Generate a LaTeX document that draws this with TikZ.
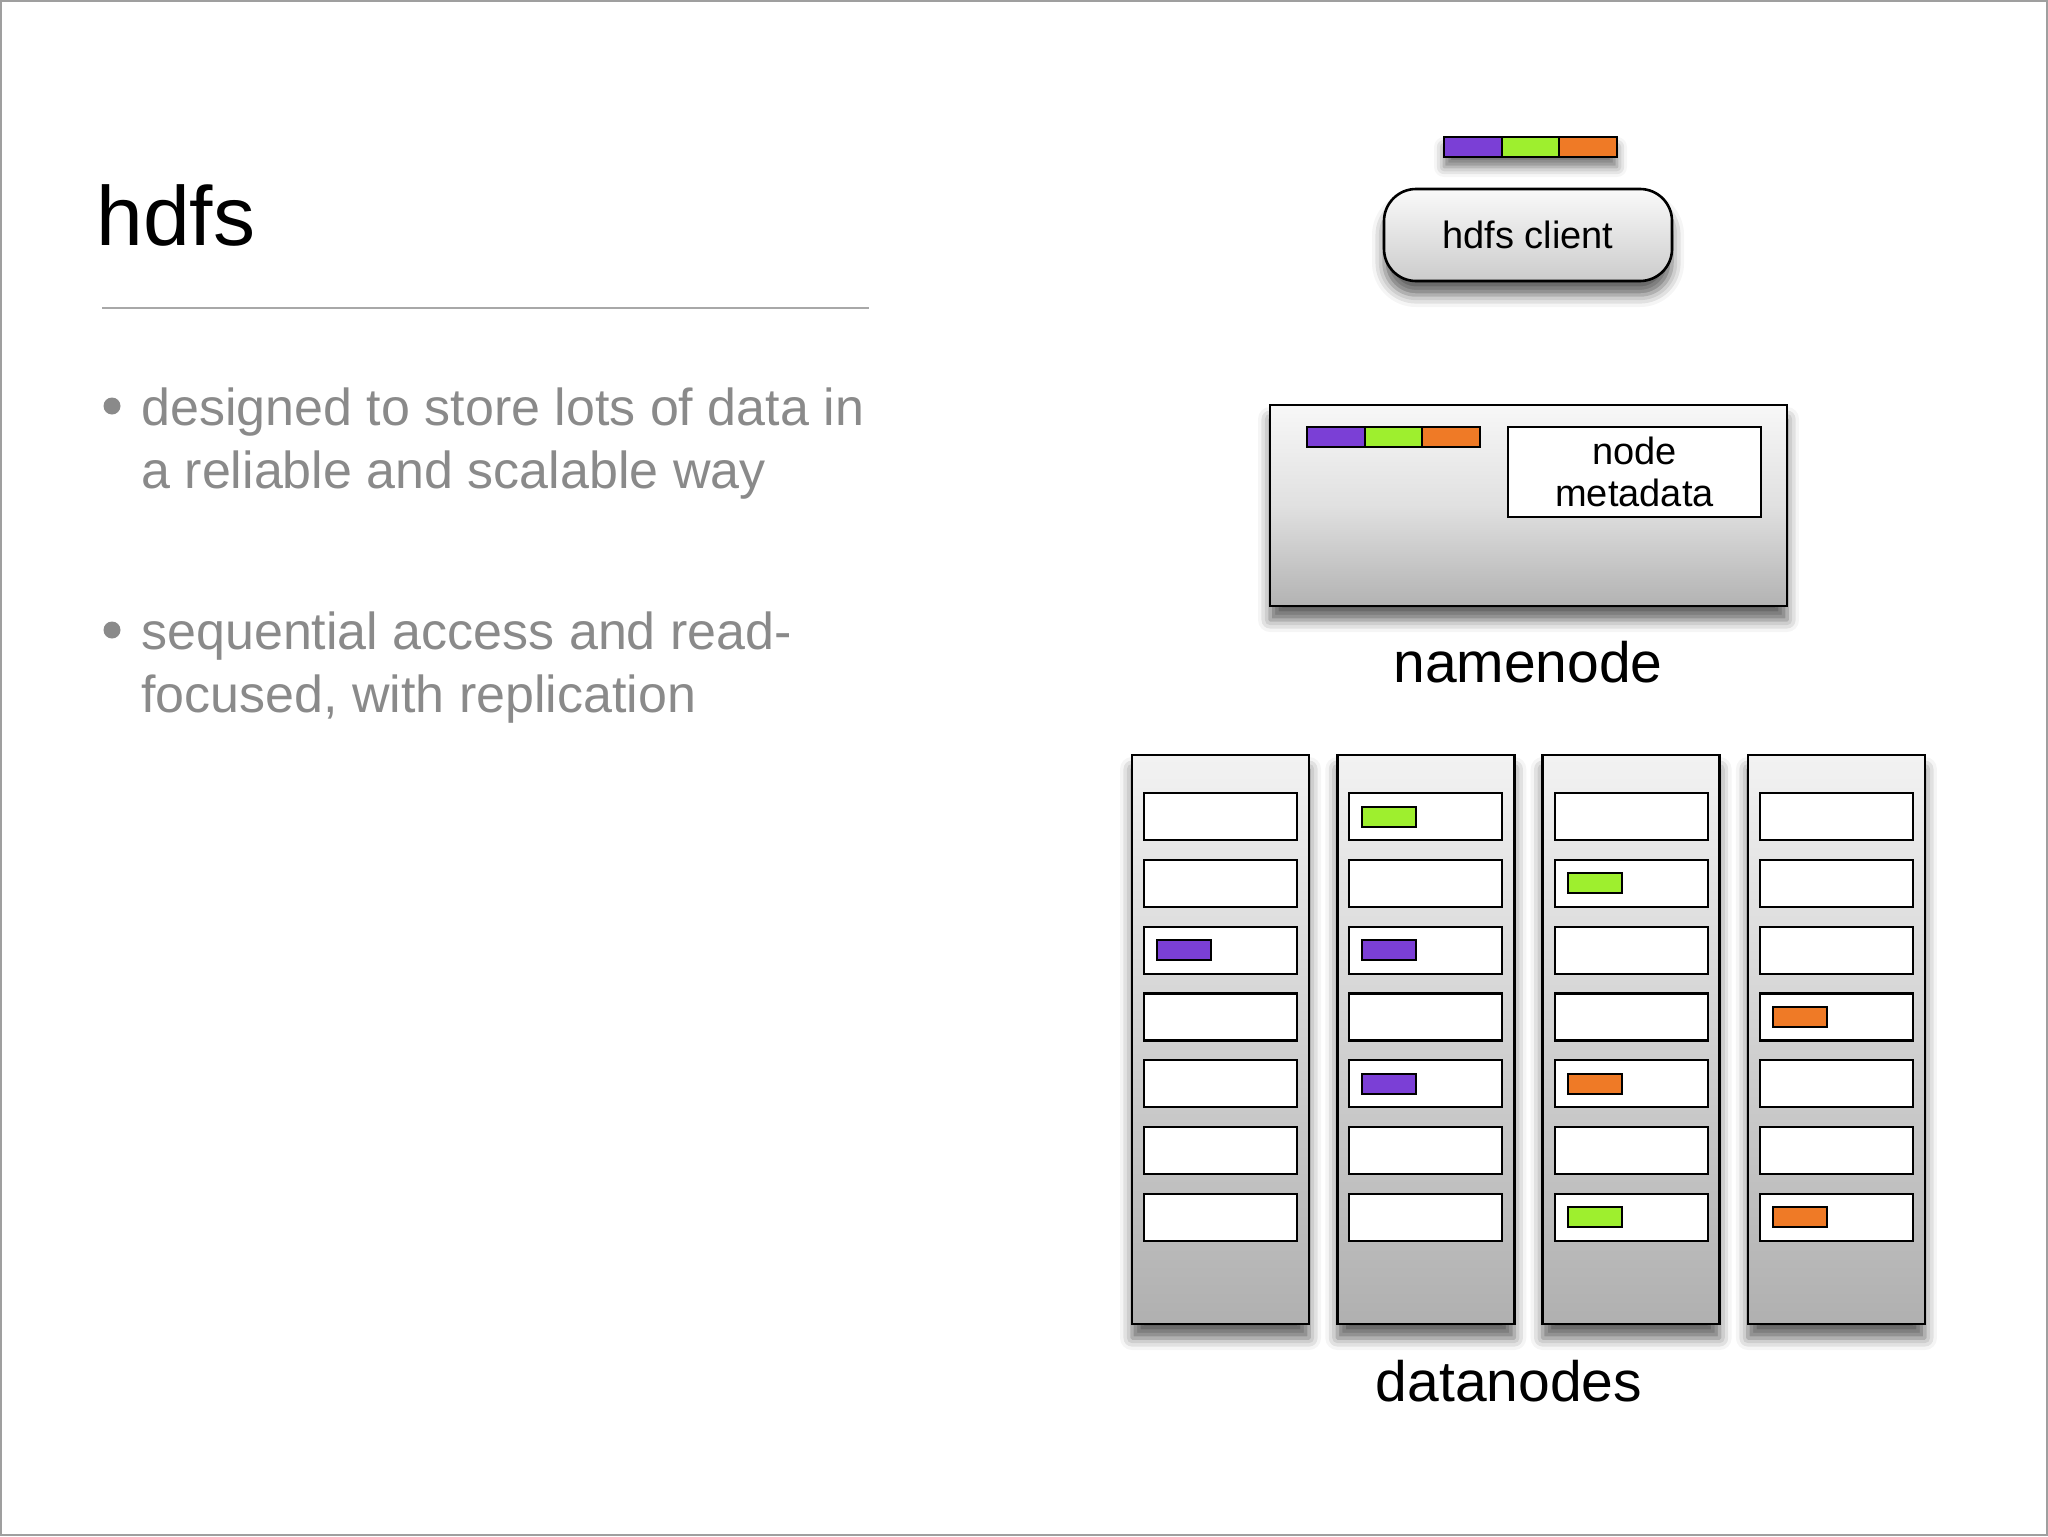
\documentclass[tikz,border=0pt]{standalone}
\usepackage{fontspec}
\setmainfont{Liberation Sans}
\usetikzlibrary{shadows.blur}
\definecolor{pur}{HTML}{7B3FD6}
\definecolor{grn}{HTML}{9EEF2E}
\definecolor{org}{HTML}{EF7A26}
\definecolor{bultxt}{HTML}{8A8A8A}
\definecolor{rulegray}{HTML}{A8A8A8}
\begin{document}
\begin{tikzpicture}[x=0.5pt,y=-0.5pt,
  seg/.style={draw=black, line width=1pt, inner sep=0pt, minimum width=28.85pt, minimum height=10pt},
  barshadow/.style={fill=white, draw=none, inner sep=0pt, minimum width=86.5pt, minimum height=10pt,
     blur shadow={shadow xshift=0pt, shadow yshift=-5pt, shadow blur radius=5pt, shadow opacity=55}},
  softshadow/.style={blur shadow={shadow xshift=0pt, shadow yshift=-7pt, shadow blur radius=6pt, shadow opacity=62}},
  clientbox/.style={draw=black, line width=1.3pt, rounded corners=16pt, inner sep=0pt,
     minimum width=144pt, minimum height=46pt, top color=white!98!black, bottom color=white!80!black, softshadow},
  nnbox/.style={draw=black, line width=1.3pt, inner sep=0pt, minimum width=258.5pt, minimum height=100.5pt,
     top color=white!97!black, bottom color=white!70!black, middle color=white!88!black, softshadow},
  metabox/.style={draw=black, line width=1.1pt, fill=white, inner sep=0pt, minimum width=126.5pt, minimum height=45pt,
     align=center, font=\fontsize{19pt}{21pt}\selectfont},
  rack/.style={draw=black, line width=1.3pt, inner sep=0pt, minimum width=88.5pt, minimum height=284.5pt,
     top color=white!95!black, bottom color=white!69!black, softshadow},
  slot/.style={draw=black, line width=1.1pt, fill=white, inner sep=0pt, minimum width=76.5pt, minimum height=23.5pt},
  blk/.style={draw=black, line width=1pt, inner sep=0pt, minimum width=27pt, minimum height=10pt, anchor=west},
  biglabel/.style={inner sep=0pt, anchor=base, font=\fontsize{28.5pt}{34pt}\selectfont},
  bul/.style={inner sep=0pt, anchor=base west, text=bultxt, font=\fontsize{26pt}{31pt}\selectfont},
  dot/.style={circle, fill=bultxt, inner sep=0pt, minimum size=8.5pt}]
\useasboundingbox (0,0) rectangle (2048,1536);
\draw[gray!75, line width=0.8pt] (1,1) rectangle (2047,1535);

% left text
\node[inner sep=0pt, anchor=base west, font=\fontsize{42pt}{50pt}\selectfont] (title) at (96,245) {hdfs};
\coordinate (ruleL) at (102,308);
\coordinate (ruleR) at (869,308);
\draw[rulegray, line width=0.7pt] (ruleL) -- (ruleR);
\node[dot] (dot1) at (112,406) {};
\node[bul] (b1a) at (141,425) {designed to store lots of data in};
\node[bul] (b1b) at (141,488) {a reliable and scalable way};
\node[dot] (dot2) at (112,630) {};
\node[bul] (b2a) at (141,649) {sequential access and read-};
\node[bul] (b2b) at (141,712) {focused, with replication};

% client bar
\node[barshadow] (cbarsh) at (1530.5,147) {};
\node[seg, fill=pur] (cb1) at (1472.8,147) {};
\node[seg, fill=grn] (cb2) at (1530.5,147) {};
\node[seg, fill=org] (cb3) at (1588.2,147) {};

% client
\node[clientbox, font=\fontsize{19pt}{23pt}\selectfont] (client) at (1528,235) {hdfs client};

% namenode
\node[nnbox] (nn) at (1528.5,505.5) {};
\node[seg, fill=pur] (nb1) at (1335.8,437) {};
\node[seg, fill=grn] (nb2) at (1393.5,437) {};
\node[seg, fill=org] (nb3) at (1451.2,437) {};
\node[metabox] (meta) at (1634.5,472) {node\\metadata};
\node[biglabel] (nnlabel) at (1528,682) {namenode};

% datanodes
\foreach \r in {0,...,3} {
  \pgfmathsetmacro\rx{1132+\r*205.3}
  \node[rack] (rack\r) at (\rx+88.5,1039.5) {};
  \foreach \s in {0,...,6} {
    \node[slot] (slot\r\s) at (\rx+12+76.5,793+\s*66.8+23.5) {};
  }
}
\foreach \r/\s/\c in {0/2/pur, 1/0/grn, 1/2/pur, 1/4/pur, 2/1/grn, 2/4/org, 2/6/grn, 3/3/org, 3/6/org} {
  \node[blk, fill=\c] (blk\r\s) at ([xshift=6.5pt]slot\r\s.west) {};
}
\node[biglabel] (dnlabel) at (1509,1401) {datanodes};
\end{tikzpicture}
\end{document}
